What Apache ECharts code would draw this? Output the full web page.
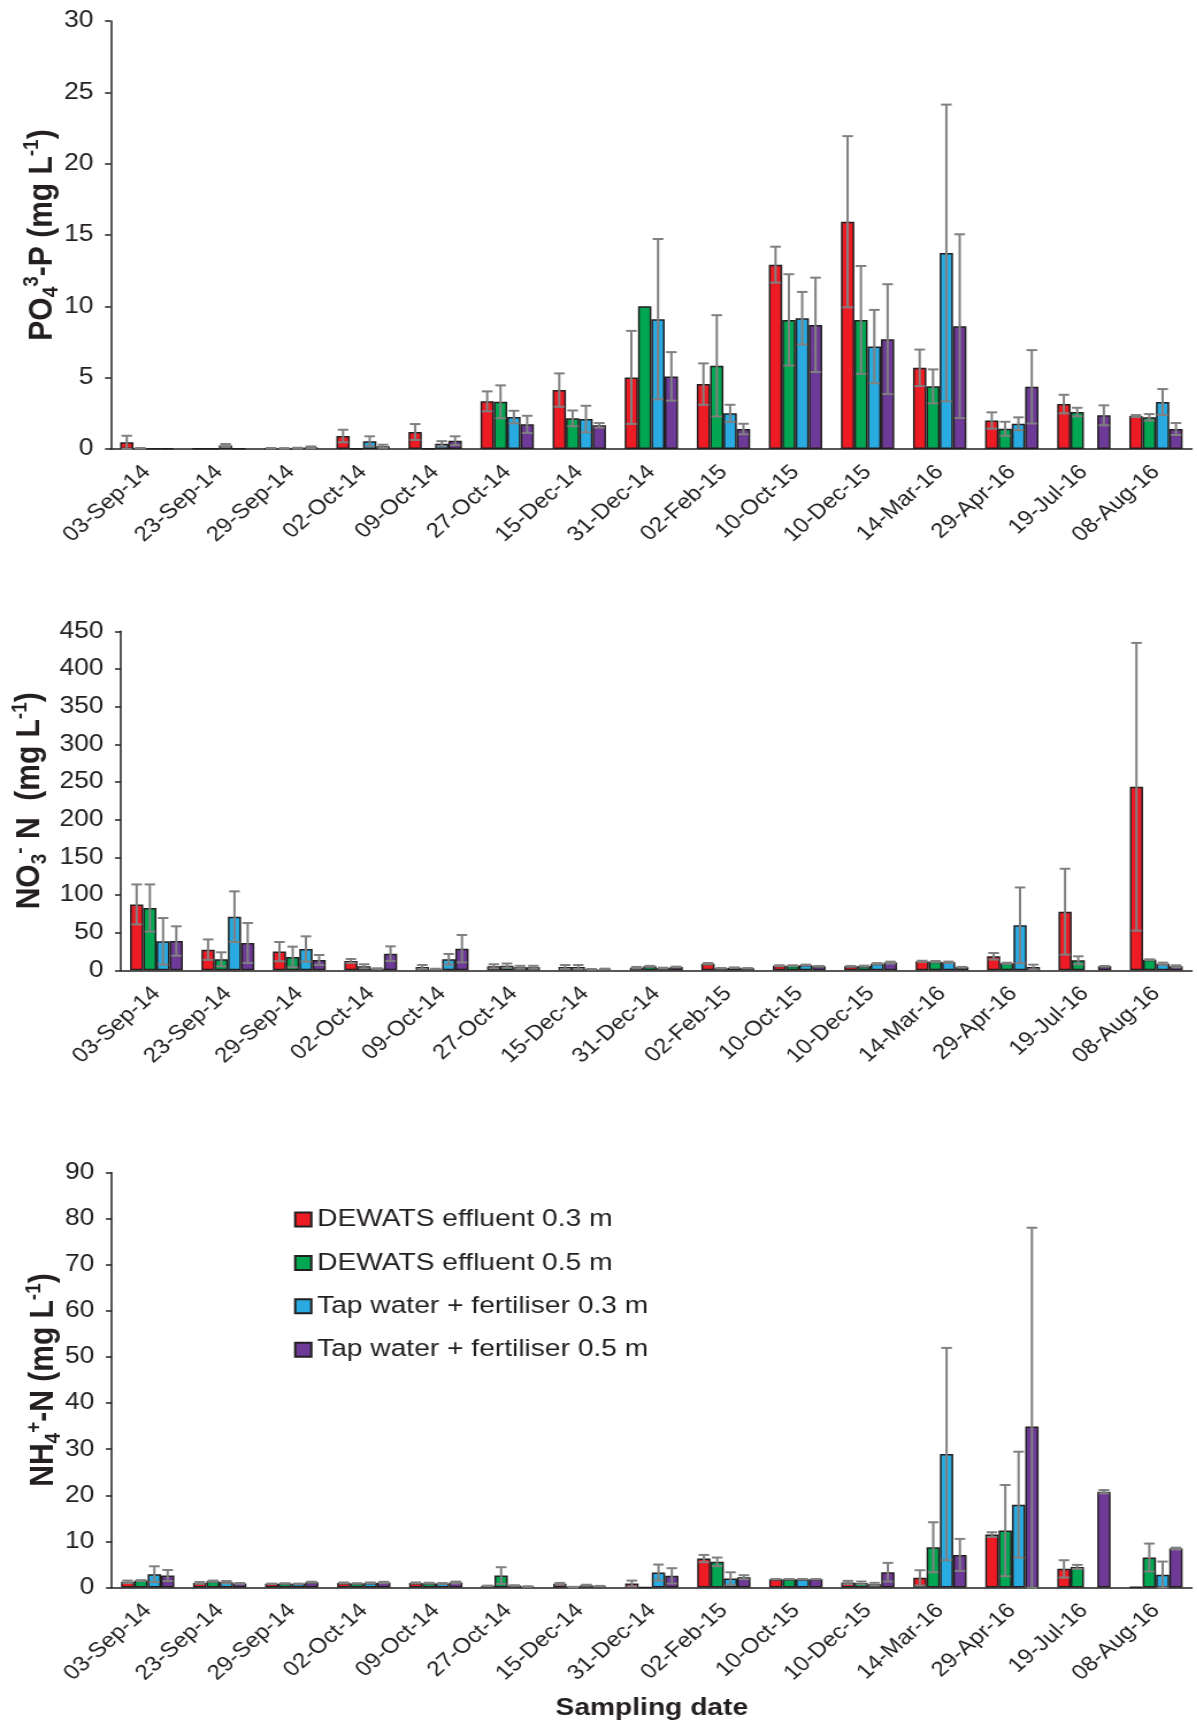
<!DOCTYPE html>
<html>
<head>
<meta charset="utf-8">
<script src="https://cdn.jsdelivr.net/npm/echarts@6/dist/echarts.min.js"></script>
<style>
  html, body { margin: 0; padding: 0; background: #fff; overflow: hidden; }
  #wrap { width: 1197px; height: 1725px; overflow: hidden; }
  /* the figure is laid out on a narrower canvas and widened horizontally */
  #chart { width: 1041px; height: 1725px; transform: scaleX(1.15); transform-origin: 0 0; }
</style>
</head>
<body>
<div id="wrap"><div id="chart"></div></div>
<script>
// Sampling dates (category axis)
const dates = ['03-Sep-14', '23-Sep-14', '29-Sep-14', '02-Oct-14', '09-Oct-14', '27-Oct-14',
  '15-Dec-14', '31-Dec-14', '02-Feb-15', '10-Oct-15', '10-Dec-15', '14-Mar-16',
  '29-Apr-16', '19-Jul-16', '08-Aug-16'];

const treatments = ['DEWATS effluent 0.3 m', 'DEWATS effluent 0.5 m',
  'Tap water + fertiliser 0.3 m', 'Tap water + fertiliser 0.5 m'];
const colors = ['#ED1C24', '#00A651', '#29ABE2', '#6E3A98'];

// PO4(3-)-P, mg/L : means and standard deviations
const po4Dew03   = [0.47, 0.02, 0.05, 0.91, 1.19, 3.34, 4.13, 5.02, 4.55, 12.92, 15.93, 5.69, 2.00, 3.15, 2.31];
const po4Dew03Sd = [0.46, 0, 0.02, 0.44, 0.56, 0.70, 1.17, 3.26, 1.45, 1.26, 6.00, 1.28, 0.57, 0.65, 0.07];
const po4Dew05   = [0.05, 0.02, 0.04, 0.02, 0.02, 3.31, 2.15, 10.00, 5.83, 9.05, 9.05, 4.39, 1.42, 2.59, 2.22];
const po4Dew05Sd = [0.02, 0, 0.02, 0, 0, 1.15, 0.55, 0, 3.55, 3.20, 3.78, 1.19, 0.49, 0.30, 0.23];
const po4Tap03   = [0.02, 0.25, 0.06, 0.54, 0.37, 2.24, 2.10, 9.10, 2.50, 9.17, 7.18, 13.74, 1.77, null, 3.29];
const po4Tap03Sd = [0, 0.10, 0.03, 0.35, 0.18, 0.44, 0.93, 5.62, 0.60, 1.84, 2.57, 10.40, 0.45, 0, 0.91];
const po4Tap05   = [0.02, 0.02, 0.12, 0.19, 0.58, 1.73, 1.66, 5.09, 1.40, 8.70, 7.70, 8.61, 4.36, 2.36, 1.40];
const po4Tap05Sd = [0, 0, 0.06, 0.11, 0.31, 0.60, 0.16, 1.70, 0.37, 3.31, 3.85, 6.44, 2.57, 0.70, 0.42];

// NO3(-)-N, mg/L
const no3Dew03   = [87.5, 27.4, 24.8, 12.4, 4.4, 5.3, 4.4, 3.5, 8.8, 6.2, 5.3, 11.9, 18.6, 77.8, 243.6];
const no3Dew03Sd = [26.5, 13.6, 12.8, 2.6, 2.6, 2.7, 2.6, 1.0, 0.9, 0.5, 0.5, 0.8, 4.4, 57.0, 191.0];
const no3Dew05   = [82.7, 14.6, 17.7, 5.3, 1.8, 6.2, 4.4, 5.3, 2.7, 6.2, 5.7, 11.5, 9.3, 13.3, 14.1];
const no3Dew05Sd = [31.3, 9.3, 13.7, 2.7, 0.3, 2.8, 2.6, 0.6, 0.3, 0.5, 0.5, 0.8, 0.8, 5.3, 0.5];
const no3Tap03   = [38.5, 71.2, 28.3, 2.2, 14.6, 4.0, 1.3, 3.0, 3.5, 7.1, 8.8, 10.6, 59.7, null, 8.8];
const no3Tap03Sd = [30.9, 33.6, 16.8, 0.5, 7.1, 2.0, 0.4, 0.5, 0.3, 0.5, 0.8, 1.0, 50.3, 0, 1.4];
const no3Tap05   = [38.9, 36.3, 13.7, 22.1, 28.7, 4.0, 1.8, 4.4, 2.7, 5.3, 10.2, 4.0, 4.4, 5.3, 5.3];
const no3Tap05Sd = [19.5, 26.5, 6.6, 9.7, 18.2, 2.0, 0.4, 0.5, 0.3, 0.5, 1.3, 0.5, 3.1, 0.5, 1.3];

// NH4(+)-N, mg/L
const nh4Dew03   = [1.23, 1.00, 0.80, 1.00, 1.00, 0.36, 0.80, 0.87, 6.28, 1.80, 1.08, 2.09, 11.47, 4.04, 0.14];
const nh4Dew03Sd = [0.27, 0.20, 0.05, 0.10, 0.10, 0.05, 0.20, 0.63, 0.79, 0.05, 0.36, 1.66, 0.51, 1.88, 0];
const nh4Dew05   = [1.50, 1.37, 0.87, 0.87, 0.94, 2.60, 0.10, 0.05, 5.56, 1.80, 1.00, 8.73, 12.34, 4.47, 6.50];
const nh4Dew05Sd = [0.10, 0.13, 0.05, 0.05, 0.10, 1.80, 0.05, 0, 0.94, 0.05, 0.30, 5.42, 9.89, 0.44, 3.03];
const nh4Tap03   = [2.90, 1.15, 0.80, 1.00, 0.87, 0.43, 0.50, 3.25, 1.95, 1.80, 0.72, 28.94, 17.97, null, 2.74];
const nh4Tap03Sd = [1.70, 0.25, 0.05, 0.10, 0.10, 0.05, 0.10, 1.73, 1.35, 0.05, 0.30, 23.02, 11.48, 0, 2.89];
const nh4Tap05   = [2.60, 0.87, 1.15, 1.08, 1.08, 0.20, 0.30, 2.53, 2.24, 1.80, 3.32, 7.07, 34.93, 20.79, 8.44];
const nh4Tap05Sd = [1.20, 0.10, 0.10, 0.15, 0.20, 0.05, 0.05, 1.66, 0.43, 0.05, 2.02, 3.47, 43.09, 0.36, 0.20];

// Axis scales
const po4Max = 30, po4Step = 5;
const no3Max = 450, no3Step = 50;
const nh4Max = 90, nh4Step = 10;

const panels = [
  { means: [po4Dew03, po4Dew05, po4Tap03, po4Tap05], sds: [po4Dew03Sd, po4Dew05Sd, po4Tap03Sd, po4Tap05Sd],
    max: po4Max, step: po4Step,
    name: '{b|PO}{sub|4}{sup|3}{b|-P (mg L}{sup|-1}{b|)}', nameGap: 42,
    grid: { left: 96.3, right: 4.5, top: 21, height: 428 } },
  { means: [no3Dew03, no3Dew05, no3Tap03, no3Tap05], sds: [no3Dew03Sd, no3Dew05Sd, no3Tap03Sd, no3Tap05Sd],
    max: no3Max, step: no3Step,
    name: '{b|NO}{sub|3}{sup|-}{b| N  (mg L}{sup|-1}{b|)}', nameGap: 61,
    grid: { left: 101.5, right: 4.5, top: 631.3, height: 339 } },
  { means: [nh4Dew03, nh4Dew05, nh4Tap03, nh4Tap05], sds: [nh4Dew03Sd, nh4Dew05Sd, nh4Tap03Sd, nh4Tap05Sd],
    max: nh4Max, step: nh4Step,
    name: '{b|NH}{sub|4}{sup|+}{b|-N (mg L}{sup|-1}{b|)}', nameGap: 41,
    grid: { left: 97.1, right: 4.5, top: 1172.5, height: 415 } }
];

const ink = '#231F20';
const font = 'Liberation Sans, Arial, sans-serif';
const CAT_GAP = 0.26;

const titleRich = {
  b: { fontSize: 30, fontWeight: 'bold', fontFamily: font, color: ink, lineHeight: 36 },
  sub: { fontSize: 19, fontWeight: 'bold', fontFamily: font, color: ink, lineHeight: 19, verticalAlign: 'bottom' },
  sup: { fontSize: 19, fontWeight: 'bold', fontFamily: font, color: ink, lineHeight: 19, verticalAlign: 'top' }
};

// Error bars: vertical whisker with caps, centred on each bar of a group
function renderErrorBar(params, api) {
  const cat = api.value(0), k = api.value(1), v = api.value(2), sd = api.value(3);
  const band = api.size([1, 0])[0];
  const bw = band * (1 - CAT_GAP) / 4;
  const cx = api.coord([cat, 0])[0] + (k - 1.5) * bw;
  const top = api.coord([cat, v + sd])[1];
  const bot = api.coord([cat, Math.max(0, v - sd)])[1];
  const half = bw * 0.4;
  const style = { stroke: '#808080', lineWidth: 2 };
  return {
    type: 'group',
    children: [
      { type: 'line', shape: { x1: cx, y1: top, x2: cx, y2: bot }, style },
      { type: 'line', shape: { x1: cx - half, y1: top, x2: cx + half, y2: top }, style },
      { type: 'line', shape: { x1: cx - half, y1: bot, x2: cx + half, y2: bot }, style }
    ]
  };
}

const grid = [], xAxis = [], yAxis = [], series = [];
panels.forEach((p, i) => {
  grid.push(p.grid);
  xAxis.push({
    type: 'category', gridIndex: i, data: dates,
    axisLine: { lineStyle: { color: ink, width: 1.5 } },
    axisTick: { show: false },
    axisLabel: { interval: 0, rotate: 45, margin: 20, fontSize: 21, color: ink, fontFamily: font },
    name: i === 2 ? 'Sampling date' : '',
    nameLocation: 'middle', nameGap: 108, nameMoveOverlap: false,
    nameTextStyle: { fontSize: 24.5, fontWeight: 'bold', color: ink, fontFamily: font }
  });
  yAxis.push({
    type: 'value', gridIndex: i, min: 0, max: p.max, interval: p.step,
    axisLine: { show: true, lineStyle: { color: ink, width: 1.5 } },
    axisTick: { show: true, length: 5, lineStyle: { color: ink, width: 1.5 } },
    splitLine: { show: false },
    axisLabel: { fontSize: 23, color: ink, fontFamily: font, margin: 15 },
    name: p.name, nameLocation: 'middle', nameGap: p.nameGap, nameRotate: 90,
    nameMoveOverlap: false,
    nameTextStyle: { rich: titleRich }
  });
  p.means.forEach((vals, k) => {
    series.push({
      type: 'bar', name: treatments[k], xAxisIndex: i, yAxisIndex: i,
      data: vals, barGap: '0%', barCategoryGap: '26%',
      itemStyle: { color: colors[k], borderColor: ink, borderWidth: 1.5 },
      emphasis: { disabled: true }
    });
  });
  const errs = [];
  p.means.forEach((vals, k) => {
    vals.forEach((v, c) => {
      const sd = p.sds[k][c];
      if (v != null && sd > 0) errs.push([c, k, v, sd]);
    });
  });
  series.push({
    type: 'custom', xAxisIndex: i, yAxisIndex: i, z: 5,
    renderItem: renderErrorBar, data: errs,
    encode: { x: 0, y: 2 }, silent: true
  });
});

const chart = echarts.init(document.getElementById('chart'));
chart.setOption({
  animation: false,
  backgroundColor: '#fff',
  grid, xAxis, yAxis, series,
  legend: {
    data: treatments, orient: 'vertical', left: 255.7, top: 1207,
    itemWidth: 14, itemHeight: 14, itemGap: 18.4, padding: 0, icon: 'rect',
    textStyle: { fontSize: 24.5, color: ink, fontFamily: font, lineHeight: 24 },
    selectedMode: false
  }
});
</script>
</body>
</html>
